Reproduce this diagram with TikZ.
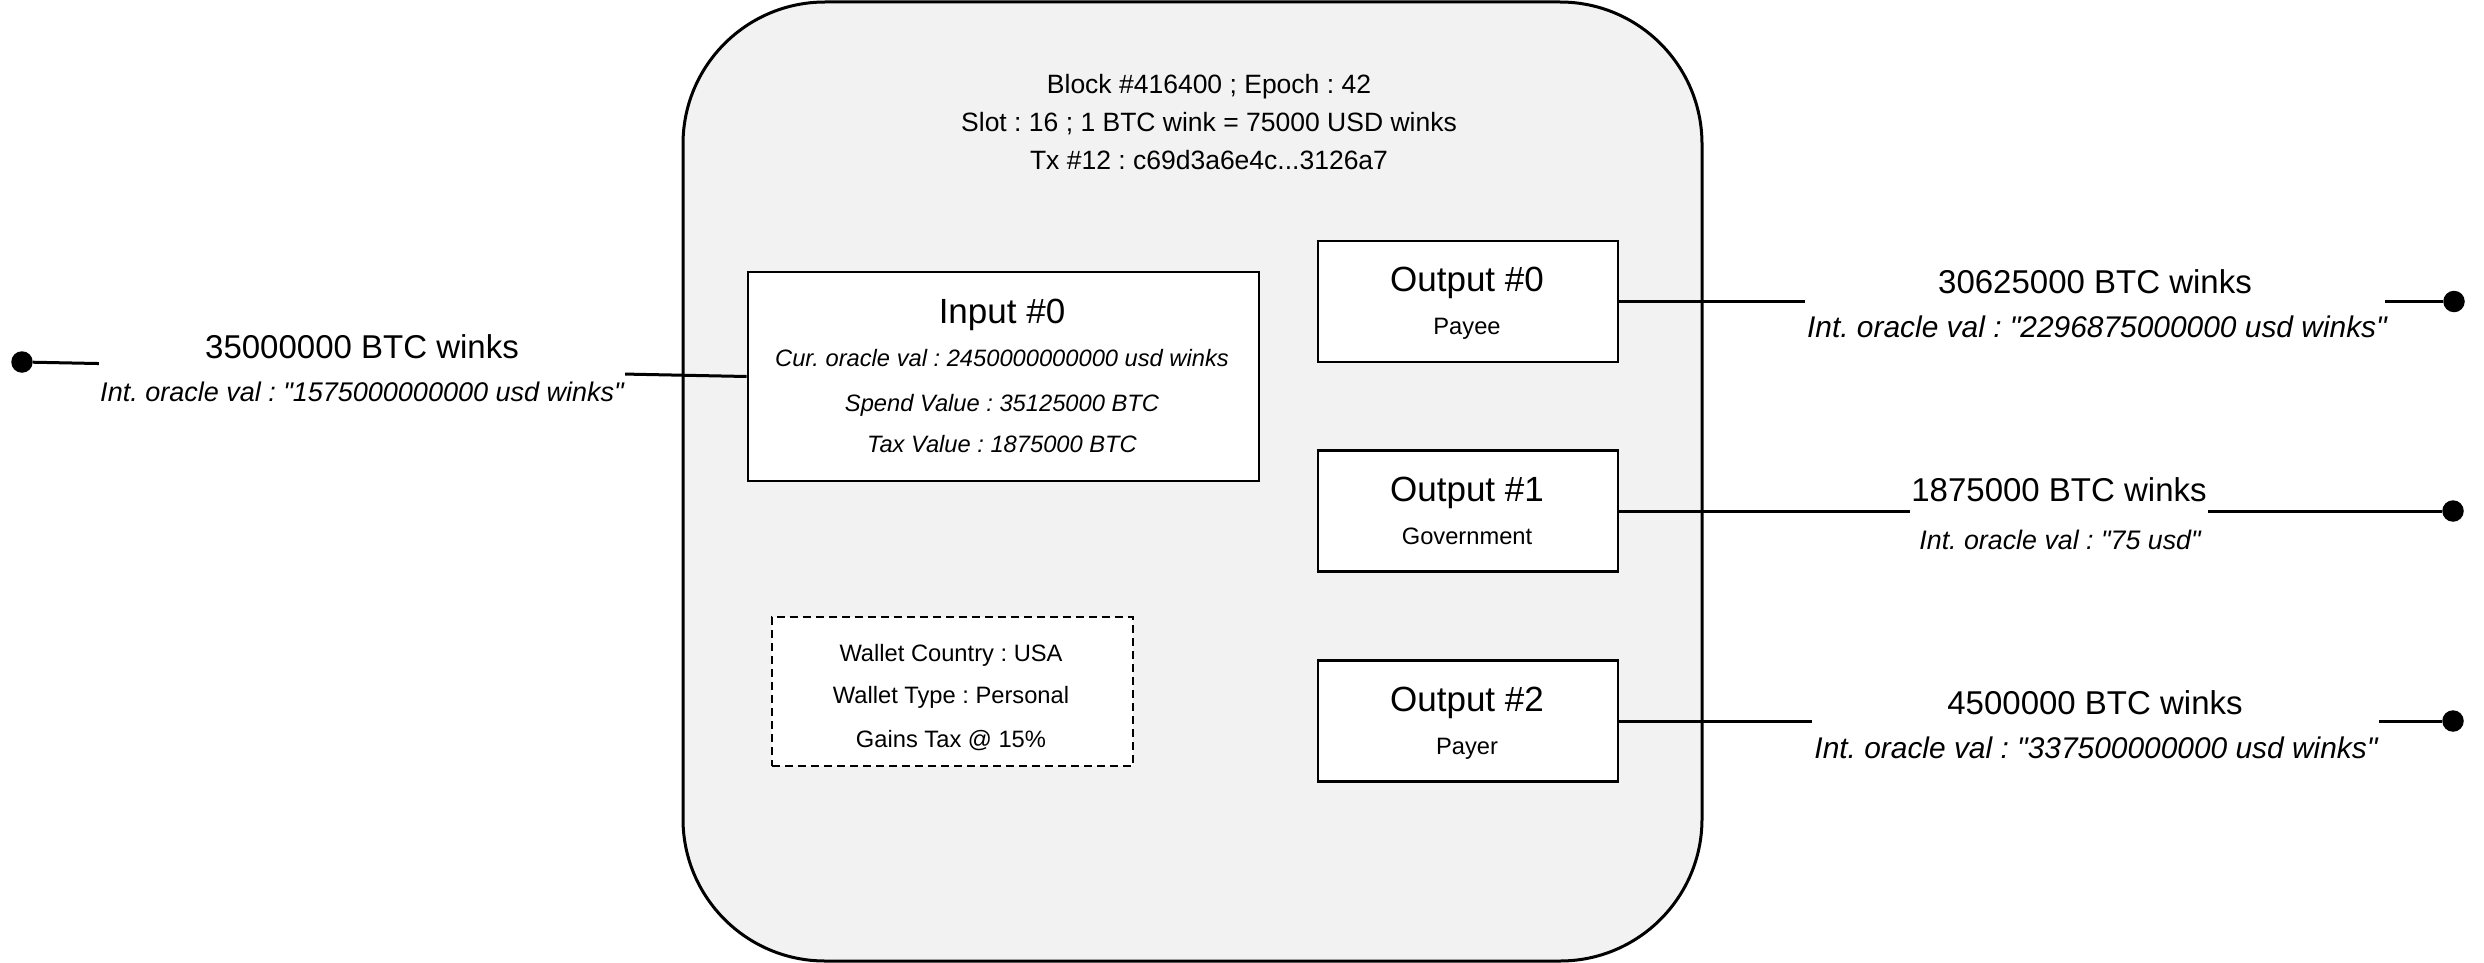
\documentclass[tikz,border=0pt]{standalone}
\usepackage{fontspec}
\setmainfont{Liberation Sans}[Ligatures=TeXOff]
\newcommand\myfs[1]{\fontsize{#1}{#1}\selectfont}
\definecolor{bggray}{RGB}{242,242,242}
\frenchspacing
\begin{document}
\begin{tikzpicture}[x=0.5pt,y=-0.5pt,
  box/.style={draw, line width=1.45pt, fill=white, inner sep=0pt},
  txt/.style={anchor=base, inner sep=0pt},
  hdr/.style={txt, font=\myfs{13.25}},
  ttl/.style={txt, font=\myfs{17.5}},
  sml/.style={txt, font=\myfs{11.85}},
  smli/.style={txt, font=\itshape\myfs{11.85}},
  lblA/.style={txt, font=\myfs{16.5}, fill=white, text depth=7pt},
  lblB/.style={txt, font=\itshape\myfs{#1}},
  dot/.style={circle, fill=black, minimum size=10.75pt, inner sep=0pt},
  conn/.style={line width=1.5pt}]
\useasboundingbox (0,0) rectangle (2484,963);

% container
\node[draw, line width=1.5pt, fill=bggray, rounded corners=71pt,
      minimum width=509.5pt, minimum height=479.5pt, inner sep=0pt] (tx) at (1192.5,481.5) {};
\node[hdr] (h1) at (1209,93.3) {Block \#416400 ; Epoch : 42};
\node[hdr] (h2) at (1209,131.7) {Slot : 16 ; 1 BTC wink = 75000 USD winks};
\node[hdr] (h3) at (1209,169.3) {Tx \#12 : c69d3a6e4c...3126a7};

% input
\node[box, minimum width=255.5pt, minimum height=104.5pt] (in) at (1003.5,376.5) {};
\node[ttl] (inT) at (1002,323.3) {Input \#0};
\node[smli] (in1) at (1002,366) {Cur. oracle val : 2450000000000 usd winks};
\node[smli] (in2) at (1002,411) {Spend Value : 35125000 BTC};
\node[smli] (in3) at (1002,452.7) {Tax Value : 1875000 BTC};

% outputs
\node[box, minimum width=150pt, minimum height=60.5pt] (o0) at (1468,301.5) {};
\node[ttl] (o0T) at (1467,291) {Output \#0};
\node[sml] (o0S) at (1467,334.5) {Payee};
\node[box, minimum width=150pt, minimum height=60.5pt] (o1) at (1468,511) {};
\node[ttl] (o1T) at (1467,501) {Output \#1};
\node[sml] (o1S) at (1467,544.5) {Government};
\node[box, minimum width=150pt, minimum height=60.5pt] (o2) at (1468,721) {};
\node[ttl] (o2T) at (1467,711) {Output \#2};
\node[sml] (o2S) at (1467,754.5) {Payer};

% wallet
\node[box, dash pattern=on 3.9pt off 2.6pt, minimum width=180.5pt, minimum height=74.5pt] (w) at (952.5,691.5) {};
\node[sml] (w1) at (951,661) {Wallet Country : USA};
\node[sml] (w2) at (951,703) {Wallet Type : Personal};
\node[sml] (w3) at (951,747) {Gains Tax @ 15\%};

% end points
\node[dot] (L) at (22,362) {};
\node[dot] (R0) at (2454,301.5) {};
\node[dot] (R1) at (2453,511) {};
\node[dot] (R2) at (2453,721) {};

% connectors
\draw[conn] (L) -- (in.west);
\draw[conn] (o0) -- (R0);
\draw[conn] (o1) -- (R1);
\draw[conn] (o2) -- (R2);

% labels
\node[lblA, minimum width=263pt, text depth=9pt] (lL1) at (362,358) {35000000 BTC winks};
\node[lblB=13.5] (lL2) at (362,401) {Int. oracle val : "1575000000000 usd winks"};
\node[lblA, minimum width=290pt] (l01) at (2095,293) {30625000 BTC winks};
\node[lblB=14.95] (l02) at (2097,337.5) {Int. oracle val : "2296875000000 usd winks"};
\node[lblA, minimum width=149pt] (l11) at (2059,501) {1875000 BTC winks};
\node[lblB=13.4] (l12) at (2060,549) {Int. oracle val : "75 usd"};
\node[lblA, minimum width=283.5pt] (l21) at (2095,714) {4500000 BTC winks};
\node[lblB=14.95] (l22) at (2096,758) {Int. oracle val : "337500000000 usd winks"};
\end{tikzpicture}
\end{document}
